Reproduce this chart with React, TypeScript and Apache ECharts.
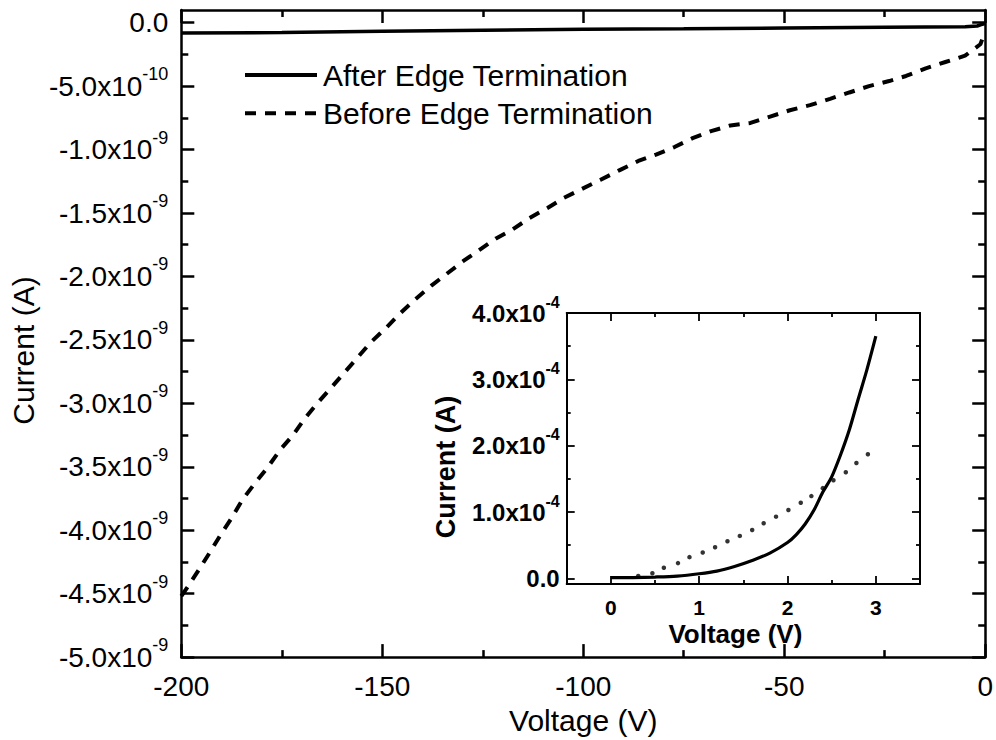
import { useEffect, useRef } from "react";
import * as echarts from "echarts";

// Reverse bias sweep (main plot): voltage in V, current in A
const afterRevV = [-200, -175, -150, -125, -100, -75, -50, -25, -5, -2, -1, 0];
const afterRevI = [
  -8.2e-11, -7.8e-11, -6.8e-11, -6.0e-11, -5.2e-11, -4.8e-11, -4.2e-11, -3.6e-11,
  -3.2e-11, -2.6e-11, -1.5e-11, -0.6e-11,
];

const beforeRevV = [
  -200, -198.5, -195.6, -193.0, -190.3, -187.6, -184.8, -181.7, -178.4, -175.5, -172.2,
  -169.3, -166.2, -162.8, -159.5, -155.9, -152.9, -149.2, -145.5, -141.8, -137.7,
  -134.0, -129.9, -125.8, -121.7, -117.6, -113.4, -108.9, -104.8, -100.3, -95.8,
  -90.8, -86.3, -81.9, -77.3, -72.8, -68.2, -63.4, -58.4, -53.5, -48.6, -43.6,
  -38.6, -33.8, -28.9, -23.9, -19.7, -14.8, -9.9, -5.0, -1.2, -0.5,
];
const beforeRevI = [
  -4.52e-9, -4.45e-9, -4.31e-9, -4.18e-9, -4.04e-9, -3.91e-9, -3.76e-9, -3.63e-9,
  -3.5e-9, -3.37e-9, -3.25e-9, -3.12e-9, -3.0e-9, -2.88e-9, -2.76e-9, -2.63e-9,
  -2.52e-9, -2.41e-9, -2.29e-9, -2.18e-9, -2.07e-9, -1.98e-9, -1.88e-9, -1.79e-9,
  -1.7e-9, -1.63e-9, -1.54e-9, -1.46e-9, -1.38e-9, -1.31e-9, -1.24e-9, -1.16e-9,
  -1.09e-9, -1.04e-9, -0.98e-9, -0.91e-9, -0.855e-9, -0.81e-9, -0.79e-9, -0.74e-9,
  -0.69e-9, -0.65e-9, -0.6e-9, -0.55e-9, -0.5e-9, -0.46e-9, -0.42e-9, -0.36e-9,
  -0.31e-9, -0.26e-9, -0.17e-9, -0.11e-9,
];

// Forward bias sweep (inset)
const afterFwdV = [0, 0.25, 0.5, 0.75, 1.0, 1.2, 1.4, 1.6, 1.8, 2.0, 2.1, 2.2, 2.3, 2.4, 2.5, 2.6, 2.7, 2.8, 2.9, 3.0];
const afterFwdI = [
  0.01e-4, 0.012e-4, 0.02e-4, 0.035e-4, 0.07e-4, 0.11e-4, 0.18e-4, 0.27e-4, 0.38e-4,
  0.54e-4, 0.66e-4, 0.82e-4, 1.03e-4, 1.3e-4, 1.53e-4, 1.86e-4, 2.24e-4, 2.7e-4, 3.15e-4, 3.65e-4,
];

const beforeFwdV = [
  0.31, 0.47, 0.6, 0.76, 0.89, 1.04, 1.18, 1.32, 1.46, 1.6, 1.73, 1.87, 2.01, 2.15,
  2.27, 2.4, 2.52, 2.66, 2.78, 2.91,
];
const beforeFwdI = [
  0.035e-4, 0.076e-4, 0.16e-4, 0.23e-4, 0.32e-4, 0.39e-4, 0.47e-4, 0.56e-4, 0.64e-4,
  0.73e-4, 0.83e-4, 0.93e-4, 1.03e-4, 1.14e-4, 1.24e-4, 1.36e-4, 1.48e-4, 1.6e-4,
  1.74e-4, 1.87e-4,
];

// Tick values
const mainYMajor = [0, -0.5e-9, -1e-9, -1.5e-9, -2e-9, -2.5e-9, -3e-9, -3.5e-9, -4e-9, -4.5e-9, -5e-9];
const mainYMinor = [
  -0.25e-9, -0.75e-9, -1.25e-9, -1.75e-9, -2.25e-9, -2.75e-9, -3.25e-9, -3.75e-9, -4.25e-9, -4.75e-9,
];
const insetXMajor = [0, 1, 2, 3];
const insetXMinor = [0.5, 1.5, 2.5];
const insetYMajor = [0, 1e-4, 2e-4, 3e-4, 4e-4];
const insetYMinor = [0.5e-4, 1.5e-4, 2.5e-4, 3.5e-4];

const SERIES_AFTER = "After Edge Termination";
const SERIES_BEFORE = "Before Edge Termination";

const FONT = "'Liberation Sans', Arial, Helvetica, sans-serif";
const INK = "#000";

const pairs = (xs: number[], ys: number[]) => xs.map((x, i) => [x, ys[i]]);

function sciLabel(v: number, base: string, sup: string): string {
  if (Math.abs(v) < 1e-30) return `{${base}|0.0}`;
  const e = Math.floor(Math.log10(Math.abs(v)) + 1e-9);
  const m = v / Math.pow(10, e);
  return `{${base}|${m.toFixed(1)}x10}{${sup}|${e}}`;
}

export default function App() {
  const ref = useRef<HTMLDivElement>(null);

  useEffect(() => {
    if (!ref.current) return;
    const chart = echarts.init(ref.current, undefined, { renderer: "svg" });

    const mainLine = { lineStyle: { color: INK, width: 2.5 }, onZero: false };
    const insetLine = { lineStyle: { color: INK, width: 2 }, onZero: false };

    const mainMajorTick = (values?: number[]) => ({
      show: true,
      inside: true,
      length: 13,
      lineStyle: { color: INK, width: 2.5 },
      ...(values ? { customValues: values } : {}),
    });
    const mainMinorTick = (values: number[]) => ({
      show: true,
      inside: true,
      length: 7,
      customValues: values,
      lineStyle: { color: INK, width: 2.5 },
    });
    const insetTick = (values: number[], length: number) => ({
      show: true,
      inside: true,
      length,
      customValues: values,
      lineStyle: { color: INK, width: 1.8 },
    });

    const mainYRange = { min: -5e-9, max: 1e-10 };
    const insetXRange = { min: -0.5, max: 3.5 };
    const insetYRange = { min: -0.085e-4, max: 4e-4 };

    const hidden = { show: false };

    const option: any = {
      animation: false,
      backgroundColor: "#ffffff",
      textStyle: { fontFamily: FONT, color: INK },
      legend: {
        data: [SERIES_AFTER, SERIES_BEFORE],
        orient: "vertical",
        left: 243,
        top: 60,
        padding: 0,
        itemWidth: 72,
        itemHeight: 30,
        itemGap: 8.3,
        selectedMode: false,
        itemStyle: { opacity: 0 },
        lineStyle: { width: 4 },
        textStyle: { fontFamily: FONT, fontSize: 30, color: INK, padding: [0, 0, 0, 1] },
      },
      grid: [
        { left: 178, top: 10, right: 6, bottom: 74.3 },
        { left: 566.7, top: 313, width: 353.3, height: 271 },
      ],
      xAxis: [
        {
          gridIndex: 0,
          type: "value",
          position: "bottom",
          min: -200,
          max: 0,
          interval: 50,
          axisLine: mainLine,
          axisTick: mainMajorTick(),
          minorTick: { show: true, splitNumber: 2, length: 7, lineStyle: { color: INK, width: 2.5 } },
          axisLabel: { fontFamily: FONT, fontSize: 28, color: INK, margin: 15 },
          splitLine: hidden,
          name: "Voltage (V)",
          nameLocation: "middle",
          nameGap: 46,
          nameTextStyle: { fontFamily: FONT, fontSize: 30, color: INK },
        },
        {
          gridIndex: 0,
          type: "value",
          position: "top",
          min: -200,
          max: 0,
          interval: 50,
          axisLine: mainLine,
          axisTick: mainMajorTick(),
          minorTick: { show: true, splitNumber: 2, length: 7, lineStyle: { color: INK, width: 2.5 } },
          axisLabel: hidden,
          splitLine: hidden,
        },
        {
          gridIndex: 1,
          type: "value",
          position: "bottom",
          ...insetXRange,
          axisLine: insetLine,
          axisTick: insetTick(insetXMajor, 8),
          axisLabel: {
            customValues: insetXMajor,
            fontFamily: FONT,
            fontSize: 21,
            fontWeight: "bold",
            color: INK,
            margin: 13,
          },
          splitLine: hidden,
          name: "Voltage (V)",
          nameLocation: "middle",
          nameGap: 37,
          nameTextStyle: { fontFamily: FONT, fontSize: 26, fontWeight: "bold", color: INK, padding: [0, 16, 0, 0] },
        },
        {
          gridIndex: 1,
          type: "value",
          position: "bottom",
          ...insetXRange,
          axisLine: { show: false, onZero: false },
          axisTick: insetTick(insetXMinor, 4),
          axisLabel: hidden,
          splitLine: hidden,
        },
        {
          gridIndex: 1,
          type: "value",
          position: "top",
          ...insetXRange,
          axisLine: insetLine,
          axisTick: insetTick(insetXMajor, 8),
          axisLabel: hidden,
          splitLine: hidden,
        },
        {
          gridIndex: 1,
          type: "value",
          position: "top",
          ...insetXRange,
          axisLine: { show: false, onZero: false },
          axisTick: insetTick(insetXMinor, 4),
          axisLabel: hidden,
          splitLine: hidden,
        },
      ],
      yAxis: [
        {
          gridIndex: 0,
          type: "value",
          position: "left",
          ...mainYRange,
          axisLine: mainLine,
          axisTick: mainMajorTick(mainYMajor),
          axisLabel: {
            customValues: mainYMajor,
            margin: 13,
            formatter: (v: number) => sciLabel(v, "b", "s"),
            rich: {
              b: { fontFamily: FONT, fontSize: 28, color: INK, lineHeight: 42 },
              s: { fontFamily: FONT, fontSize: 18, color: INK, lineHeight: 18, verticalAlign: "top" },
            },
          },
          splitLine: hidden,
          name: "Current (A)",
          nameLocation: "middle",
          nameRotate: 90,
          nameGap: 140,
          nameTextStyle: { fontFamily: FONT, fontSize: 30, color: INK, padding: [0, 34, 0, 0] },
        },
        {
          gridIndex: 0,
          type: "value",
          position: "left",
          ...mainYRange,
          axisLine: { show: false, onZero: false },
          axisTick: mainMinorTick(mainYMinor),
          axisLabel: hidden,
          splitLine: hidden,
        },
        {
          gridIndex: 0,
          type: "value",
          position: "right",
          ...mainYRange,
          axisLine: mainLine,
          axisTick: mainMajorTick(mainYMajor),
          axisLabel: hidden,
          splitLine: hidden,
        },
        {
          gridIndex: 0,
          type: "value",
          position: "right",
          ...mainYRange,
          axisLine: { show: false, onZero: false },
          axisTick: mainMinorTick(mainYMinor),
          axisLabel: hidden,
          splitLine: hidden,
        },
        {
          gridIndex: 1,
          type: "value",
          position: "left",
          ...insetYRange,
          axisLine: insetLine,
          axisTick: insetTick(insetYMajor, 8),
          axisLabel: {
            customValues: insetYMajor,
            margin: 7,
            formatter: (v: number) => sciLabel(v, "b", "s"),
            rich: {
              b: { fontFamily: FONT, fontSize: 24, fontWeight: "bold", color: INK, lineHeight: 38 },
              s: { fontFamily: FONT, fontSize: 16, fontWeight: "bold", color: INK, lineHeight: 18, verticalAlign: "top" },
            },
          },
          splitLine: hidden,
          name: "Current (A)",
          nameLocation: "middle",
          nameRotate: 90,
          nameGap: 107,
          nameTextStyle: { fontFamily: FONT, fontSize: 27, fontWeight: "bold", color: INK, padding: [0, 37, 0, 0] },
        },
        {
          gridIndex: 1,
          type: "value",
          position: "left",
          ...insetYRange,
          axisLine: { show: false, onZero: false },
          axisTick: insetTick(insetYMinor, 4),
          axisLabel: hidden,
          splitLine: hidden,
        },
        {
          gridIndex: 1,
          type: "value",
          position: "right",
          ...insetYRange,
          axisLine: insetLine,
          axisTick: insetTick(insetYMajor, 8),
          axisLabel: hidden,
          splitLine: hidden,
        },
        {
          gridIndex: 1,
          type: "value",
          position: "right",
          ...insetYRange,
          axisLine: { show: false, onZero: false },
          axisTick: insetTick(insetYMinor, 4),
          axisLabel: hidden,
          splitLine: hidden,
        },
      ],
      series: [
        {
          name: SERIES_AFTER,
          type: "line",
          xAxisIndex: 0,
          yAxisIndex: 0,
          data: pairs(afterRevV, afterRevI),
          symbol: "none",
          lineStyle: { color: INK, width: 3.5 },
          itemStyle: { color: INK },
          z: 3,
        },
        {
          name: SERIES_BEFORE,
          type: "line",
          xAxisIndex: 0,
          yAxisIndex: 0,
          data: pairs(beforeRevV, beforeRevI),
          symbol: "none",
          lineStyle: { color: INK, width: 4, type: [11, 9], cap: "butt" },
          itemStyle: { color: INK },
          z: 3,
        },
        {
          name: "Forward, after",
          type: "line",
          xAxisIndex: 2,
          yAxisIndex: 4,
          data: pairs(afterFwdV, afterFwdI),
          symbol: "none",
          smooth: 0.3,
          lineStyle: { color: INK, width: 3.2 },
          z: 3,
        },
        {
          name: "Forward, before",
          type: "scatter",
          xAxisIndex: 2,
          yAxisIndex: 4,
          data: pairs(beforeFwdV, beforeFwdI),
          symbol: "circle",
          symbolSize: 4.5,
          itemStyle: { color: INK },
          z: 3,
        },
      ],
    };

    chart.setOption(option);
    return () => chart.dispose();
  }, []);

  return (
    <div
      ref={ref}
      style={{ position: "fixed", left: 0, top: 0, width: 996, height: 740, background: "#fff" }}
    />
  );
}
